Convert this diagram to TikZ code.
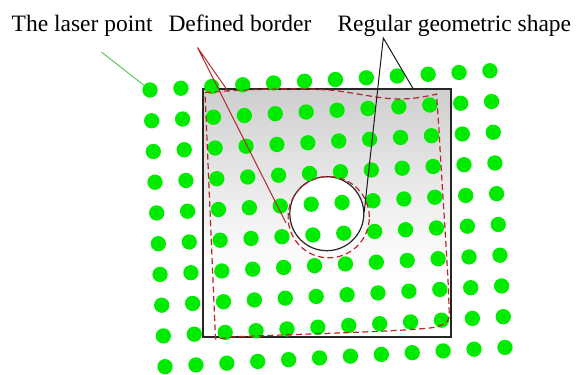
\documentclass[tikz,border=0pt]{standalone}
\usepackage{fontspec}
\setmainfont{Liberation Serif}
\definecolor{laser}{RGB}{0,235,0}
\definecolor{leadgreen}{RGB}{90,200,90}
\definecolor{bred}{RGB}{180,40,40}
\pgfdeclareverticalshading{plate}{100bp}{color(0bp)=(gray!3); color(35bp)=(white); color(45bp)=(white!97!black); color(100bp)=(gray!65)}
\begin{document}
\begin{tikzpicture}[x=1pt,y=-1pt,
  dot/.style={circle,fill=laser,inner sep=0pt,minimum size=15.3pt},
  lbl/.style={anchor=base west,inner sep=0pt,font=\fontsize{23.5}{28}\selectfont},
  dashborder/.style={draw=bred,dash pattern=on 6pt off 3.5pt,line width=1.2pt},
  redlead/.style={draw=bred,line width=1pt},
  blacklead/.style={draw=black!90,line width=1pt},
  greenlead/.style={draw=leadgreen,line width=1pt}]
\useasboundingbox (0,0) rectangle (577,374);
% plate
\node[draw=black!85,line width=1.2pt,shading=plate,minimum width=248pt,minimum height=248pt,inner sep=0pt] (plate) at (327,213) {};
\node[draw=black!85,line width=1.2pt,fill=white,circle,minimum size=74pt,inner sep=0pt] (hole) at (326.8,213.7) {};
% laser dots
\foreach \r in {0,...,9}{
  \foreach \c in {0,...,11}{
    \node[dot] (d-\r-\c) at ({150+30.9*\c+1.67*\r},{90-1.75*\c+30.74*\r}) {};
  }
}
% defined border
\draw[dashborder] (205,92.5) .. controls (250,89) and (300,87.5) .. (335,90.5)
  .. controls (362,94) and (380,99) .. (400,99)
  .. controls (415,99) and (428,96) .. (436.5,94)
  -- (439,130) .. controls (441,170) and (446,240) .. (448.5,290) -- (449.3,316)
  .. controls (449.5,322) and (442,326.5) .. (430,328)
  .. controls (390,332) and (300,334) .. (235,336.8) -- (215.5,339) -- cycle;
\draw[dashborder] (328.7,217.2) circle[radius=40.6pt];
% labels
\node[lbl] (t1) at (11.5,31.5) {The laser point};
\node[lbl] (t2) at (168.3,31.5) {Defined border};
\node[lbl] (t3) at (337.3,31.5) {Regular geometric shape};
% leaders
\coordinate (gstart) at (101.7,52.3);
\draw[greenlead] (gstart) -- (d-0-0);
\coordinate (rapex) at (197.5,47.5);
\coordinate (rend1) at (228.3,91.7);
\coordinate (rend2) at (286,223);
\draw[redlead] (rend1) -- (rapex) -- (rend2);
\coordinate (bapex) at (383.3,38);
\coordinate (bend1) at (413.3,89);
\coordinate (bend2) at (364.2,212);
\draw[blacklead] (bend1) -- (bapex) -- (bend2);
\end{tikzpicture}
\end{document}
